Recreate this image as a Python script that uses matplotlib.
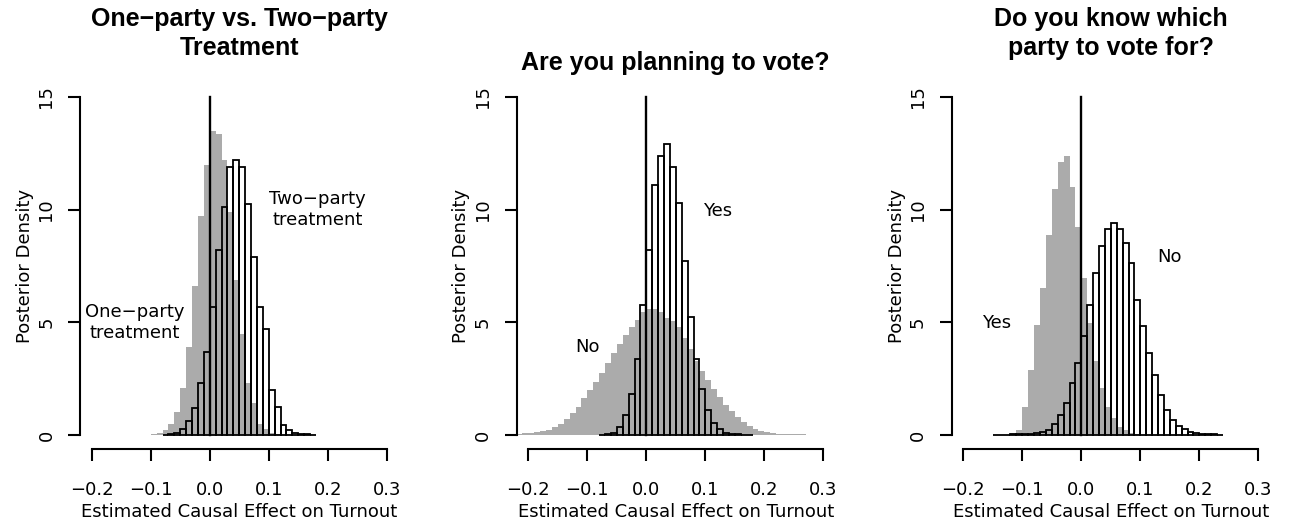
import numpy as np
import matplotlib.pyplot as plt

plt.rcParams['font.family'] = ['DejaVu Sans']

# bin width of the posterior histograms
bin_w = 0.01

# panel 1: one-party (gray) vs two-party (outlined) treatment
one_party_start = -0.10
one_party = [0.05, 0.1, 0.2, 0.5, 1.0, 2.1, 3.9, 6.6, 9.7, 12.0, 13.5, 13.35,
             12.2, 9.9, 6.9, 4.5, 2.3, 1.4, 0.5, 0.25, 0.1, 0.05]
two_party_start = -0.08
two_party = [0.02, 0.05, 0.1, 0.25, 0.62, 1.2, 2.3, 3.7, 5.7, 8.2, 10.1, 11.9,
             12.2, 11.9, 10.25, 7.9, 5.7, 4.7, 2.0, 1.25, 0.44, 0.2, 0.1, 0.05,
             0.03, 0.02]

# panel 2: planning to vote, No (gray) / Yes (outlined)
plan_no_start = -0.22
plan_no = [0.05, 0.07, 0.1, 0.13, 0.17, 0.24, 0.35, 0.5, 0.72, 0.96, 1.26, 1.65,
           2.0, 2.35, 2.75, 3.2, 3.65, 4.05, 4.45, 4.8, 5.1, 5.45,
           5.6, 5.6, 5.45, 5.2, 5.05, 4.8, 4.3, 3.8, 3.3, 2.85, 2.45, 2.05,
           1.7, 1.35, 1.05, 0.8, 0.57, 0.4, 0.26, 0.17, 0.12, 0.08, 0.06,
           0.05, 0.04, 0.03, 0.03]
plan_yes_start = -0.08
plan_yes = [0.02, 0.05, 0.1, 0.34, 0.89, 1.82, 3.36, 5.77, 8.2, 11.1, 12.4, 12.9,
            11.9, 10.3, 7.7, 5.25, 3.37, 2.03, 1.11, 0.55, 0.27, 0.1, 0.05,
            0.03, 0.02, 0.01]

# panel 3: know which party, Yes (gray) / No (outlined)
know_yes_start = -0.12
know_yes = [0.07, 0.22, 1.23, 2.88, 4.88, 6.51, 8.88, 10.9, 12.13, 12.38, 11.02,
            9.22, 6.95, 4.96, 3.3, 2.07, 1.26, 0.74, 0.37, 0.2, 0.1, 0.05]
know_no_start = -0.15
know_no = [0.02, 0.02, 0.02, 0.03, 0.03, 0.04, 0.04, 0.07, 0.12, 0.22, 0.49,
           0.89, 1.41, 2.32, 3.18, 4.39, 5.77, 7.2, 8.39, 9.13, 9.4, 9.16, 8.54,
           7.62, 5.99, 4.85, 3.63, 2.65, 1.76, 1.11, 0.67, 0.4, 0.25, 0.15,
           0.08, 0.05, 0.04, 0.03, 0.02]

titles = ['One\u2212party vs. Two\u2212party\nTreatment',
          'Are you planning to vote?',
          'Do you know which\nparty to vote for?']
labels = [[('One\u2212party\ntreatment', -0.127, 5.0), ('Two\u2212party\ntreatment', 0.183, 10.0)],
          [('No', -0.10, 3.92), ('Yes', 0.12, 9.92)],
          [('Yes', -0.143, 4.97), ('No', 0.149, 7.92)]]
x_ticks = [-0.2, -0.1, 0.0, 0.1, 0.2, 0.3]
y_ticks = [0, 5, 10, 15]

W, H = 1291, 530
fig = plt.figure(figsize=(W / 100, H / 100), dpi=100)

gray_col = '#ABABAB'
lw = 1.5
fs = 13


def draw_panel(left_px, gray_start, gray, white_start, white, title, notes):
    ax = fig.add_axes([left_px / W, (H - 448.5) / H, 318.6 / W, 365.0 / H])
    g_edges = gray_start + bin_w * np.arange(len(gray))
    w_edges = white_start + bin_w * np.arange(len(white))
    ax.bar(g_edges, gray, width=bin_w, align='edge', color=gray_col,
           edgecolor='none', linewidth=0)
    ax.bar(w_edges, white, width=bin_w, align='edge', fill=False,
           edgecolor='black', linewidth=1.3)
    ax.plot([0, 0], [0, 15], color='black', linewidth=1.7)

    ax.set_xlim(-0.22, 0.32)
    ax.set_ylim(-0.6, 15.6)
    for s in ['top', 'right']:
        ax.spines[s].set_visible(False)
    ax.spines['left'].set_bounds(0, 15)
    ax.spines['bottom'].set_bounds(-0.2, 0.3)
    ax.spines['left'].set_linewidth(lw)
    ax.spines['bottom'].set_linewidth(lw)

    ax.set_xticks(x_ticks)
    ax.set_xticklabels(['%.1f' % v if v >= 0 else '\u2212%.1f' % -v for v in x_ticks])
    ax.set_yticks(y_ticks)
    ax.set_yticklabels([str(v) for v in y_ticks], rotation=90, va='center')
    ax.tick_params(axis='x', length=8.6, width=lw, pad=15, labelsize=fs)
    ax.tick_params(axis='y', length=8.6, width=lw, pad=9, labelsize=fs)

    cx = (left_px + 318.6 / 2) / W
    fig.text(cx, 1 - 517 / H, 'Estimated Causal Effect on Turnout',
             ha='center', va='baseline', fontsize=fs)
    fig.text((left_px - 55) / W, 1 - 266 / H, 'Posterior Density',
             rotation=90, ha='center', va='center', fontsize=fs)

    for txt, x, y in notes:
        ax.text(x, y, txt, ha='center', va='center', fontsize=fs,
                multialignment='center')

    if '\n' in title:
        fig.text(cx, 1 - 55 / H, title, ha='center', va='baseline',
                 fontsize=18, fontweight='bold', multialignment='center',
                 linespacing=1.25, family='Liberation Sans')
    else:
        fig.text(cx, 1 - 70 / H, title, ha='center', va='baseline',
                 fontsize=18, fontweight='bold', family='Liberation Sans')
    return ax


draw_panel(79.9, one_party_start, one_party, two_party_start, two_party,
           titles[0], labels[0])
draw_panel(516.5, plan_no_start, plan_no, plan_yes_start, plan_yes,
           titles[1], labels[1])
draw_panel(951.5, know_yes_start, know_yes, know_no_start, know_no,
           titles[2], labels[2])

plt.savefig('out.png', dpi=100)
